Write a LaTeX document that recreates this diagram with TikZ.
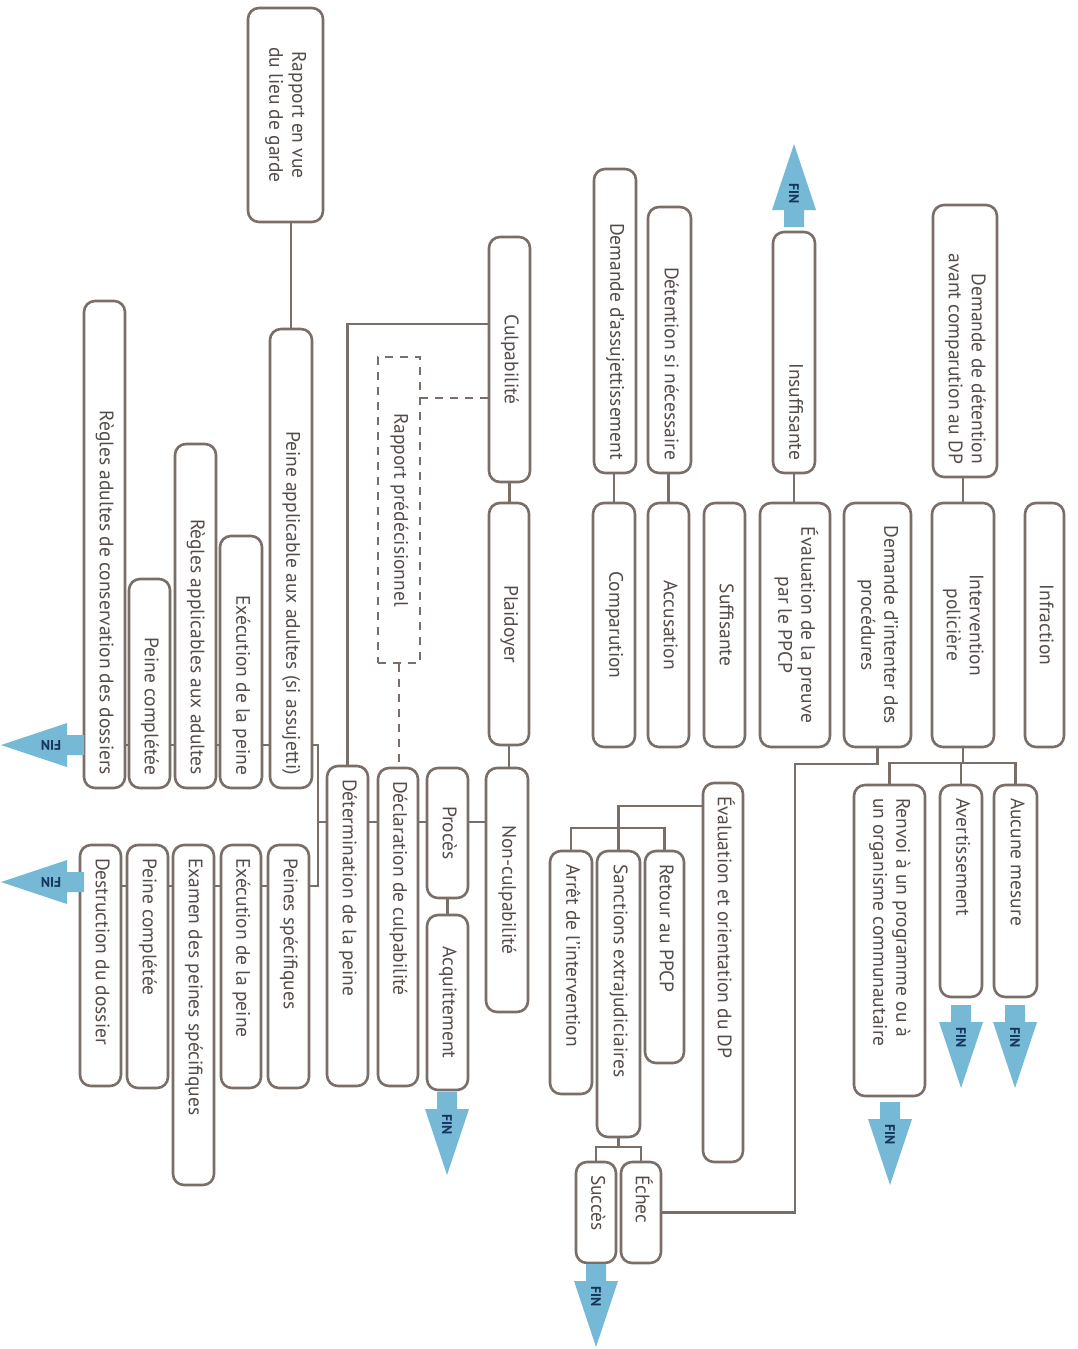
\documentclass[tikz,border=0pt]{standalone}
\usepackage{fontspec}
\setmainfont{PT Sans}
\usepackage{tikz}

\definecolor{boxline}{RGB}{122,110,104}
\definecolor{boxtext}{RGB}{84,76,73}
\definecolor{finfill}{RGB}{118,185,214}
\definecolor{fintext}{RGB}{22,52,92}

% rotated text in a box of fixed length: length, alignment (l=top, r=bottom, c)
\newcommand{\vtext}[4][c]{\rotatebox{-90}{\makebox[#2pt][#3]{\hspace*{13pt}\begin{tabular}{@{}#1@{}}#4\end{tabular}\hspace*{13pt}}}}
% FIN arrow: tip x, tip y, direction, text rotation, name
\newcommand{\finarrow}[5]{%
  \begin{scope}[shift={(#1,#2)}, rotate=#3]
    \fill[finfill] (-10,-83) -- (10,-83) -- (10,-66) -- (22,-66) -- (0,0) -- (-22,-66) -- (-10,-66) -- cycle;
    \node[fin, rotate=#4] (#5) at (0,-50) {FIN};
  \end{scope}}

\tikzset{
  box/.style={draw=boxline, line width=2.6pt, rounded corners=11pt, fill=white,
    inner sep=0pt, text=boxtext, font=\fontsize{19.5}{23}\selectfont},
  dbox/.style={box, rounded corners=0pt, line width=2.2pt, dash pattern=on 8pt off 7pt},
  link/.style={draw=boxline, line width=2.2pt},
  dlink/.style={link, dash pattern=on 8pt off 7pt},
  fin/.style={inner sep=0pt, text=fintext, font=\bfseries\fontsize{14}{14}\selectfont},
}

\begin{document}
\begin{tikzpicture}[x=1pt, y=-1pt]
\fill[white] (0,0) rectangle (1078,1349);
\useasboundingbox (0,0) rectangle (1078,1349);

% right part
\node[box, minimum width=42pt] (assuj) at (615,321) {\vtext{304}{r}{Demande d'assujettissement}};
\node[box, minimum width=43pt] (detsi) at (669.5,340) {\vtext{266}{r}{Détention si nécessaire}};
\node[box, minimum width=42pt] (insuf) at (794,352.5) {\vtext{241}{r}{Insuffisante}};
\node[box, minimum width=64pt] (demdet) at (965,341) {\vtext[r]{272}{r}{Demande de détention\\avant comparution au DP}};

\node[box, minimum width=42pt] (compar) at (614,625) {\vtext{244}{c}{Comparution}};
\node[box, minimum width=41pt] (accus) at (668.5,625) {\vtext{244}{c}{Accusation}};
\node[box, minimum width=41pt] (suff) at (724.5,625) {\vtext{244}{c}{Suffisante}};
\node[box, minimum width=70pt] (evalp) at (795,625) {\vtext{244}{c}{Évaluation de la preuve\\par le PPCP}};
\node[box, minimum width=67pt] (demint) at (877.5,625) {\vtext{244}{c}{Demande d'intenter des\\procédures}};
\node[box, minimum width=62pt] (interv) at (963,625) {\vtext{244}{c}{Intervention\\policière}};
\node[box, minimum width=39pt] (infr) at (1044.5,625) {\vtext{244}{c}{Infraction}};

\draw[link] (compar.north) -- (compar.north |- assuj.south);
\draw[link] (accus.north) -- (accus.north |- detsi.south);
\draw[link] (evalp.north -| insuf.south) -- (insuf.south);
\draw[link] (interv.north) -- (interv.north |- demdet.south);
\finarrow{794}{144}{180}{-90}{fin1}

\node[box, minimum width=43pt] (aucune) at (1015.5,891) {\vtext{212}{l}{Aucune mesure}};
\node[box, minimum width=42pt] (avert) at (961,891) {\vtext{212}{l}{Avertissement}};
\node[box, minimum width=71pt] (renvoi) at (889.5,940.5) {\vtext[l]{311}{l}{Renvoi à un programme ou à\\un organisme communautaire}};
\coordinate (forkint) at (963,763);
\draw[link] (interv.south) -- (forkint);
\draw[link] (renvoi.north) |- (forkint) -| (aucune.north);
\draw[link] (forkint -| avert.north) -- (avert.north);
\finarrow{961}{1088}{0}{-90}{fin2}
\finarrow{1015}{1088}{0}{-90}{fin3}
\finarrow{890}{1185}{0}{-90}{fin4}

\node[box, minimum width=40pt] (evalo) at (723,972.5) {\vtext{379}{l}{Évaluation et orientation du DP}};
\node[box, minimum width=39pt] (retour) at (664.5,957) {\vtext{212}{l}{Retour au PPCP}};
\node[box, minimum width=43pt] (sanct) at (618.5,994) {\vtext{286}{l}{Sanctions extrajudiciaires}};
\node[box, minimum width=42pt] (arret) at (571,972.5) {\vtext{243}{l}{Arrêt de l'intervention}};
\node[box, minimum width=40pt] (echec) at (641,1212.5) {\vtext{101}{l}{Échec}};
\node[box, minimum width=40pt] (succes) at (596,1212.5) {\vtext{101}{l}{Succès}};
\coordinate (forkeval) at (618.5,806);
\coordinate (forksanct) at (618.5,828);
\coordinate (forkres) at (618.5,1147);
\coordinate (backint) at (795,764);
\draw[link] (evalo.west |- forkeval) -| (sanct.north);
\draw[link] (arret.north) |- (forksanct) -| (retour.north);
\draw[link] (sanct.south) -- (forkres);
\draw[link] (succes.north) |- (forkres) -| (echec.north);
\draw[link] (echec.east) -| (backint) -| (demint.south);
\finarrow{596}{1347}{0}{-90}{fin5}

% middle part
\node[box, minimum width=41pt] (culp) at (509.5,359.5) {\vtext{245}{c}{Culpabilité}};
\node[box, minimum width=40pt] (plaid) at (509,624) {\vtext{242}{c}{Plaidoyer}};
\node[box, minimum width=42pt] (noncul) at (507,890) {\vtext{244}{c}{Non-culpabilité}};
\node[box, minimum width=41pt] (proces) at (447.5,833) {\vtext{130}{c}{Procès}};
\node[box, minimum width=41pt] (acquit) at (447.5,1002.5) {\vtext{175}{c}{Acquittement}};
\node[box, minimum width=40pt] (declar) at (398,927) {\vtext{318}{l}{Déclaration de culpabilité}};
\node[box, minimum width=41pt] (determ) at (347.5,926) {\vtext{320}{l}{Détermination de la peine}};
\node[dbox, minimum width=42pt] (rappred) at (399,510) {\vtext{306}{c}{Rapport prédécisionnel}};
\draw[link] (culp.south) -- (culp.south |- plaid.north);
\draw[link] (plaid.south) -- (plaid.south |- noncul.north);
\draw[link] (proces.south) -- (acquit.north);
\finarrow{447}{1175}{0}{-90}{fin6}

\coordinate (rowmid) at (318,822);
\foreach \a/\b in {noncul/proces, proces/declar, declar/determ}
  \draw[link] (\a.west |- rowmid) -- (\b.east |- rowmid);
\coordinate (forkculp) at (347.5,324);
\draw[link] (culp.west |- forkculp) -- (forkculp) -- (determ.north);
\coordinate (forkrap) at (420,398);
\draw[dlink] (culp.west |- forkrap) -- (rappred.east |- forkrap);
\draw[dlink] (rappred.south) -- (rappred.south |- declar.north);

% left part
\node[box, minimum width=75pt] (rapport) at (285.5,115) {\vtext{214}{c}{Rapport en vue\\du lieu de garde}};
\node[box, minimum width=42pt] (peineadu) at (291,558.5) {\vtext{459}{r}{Peine applicable aux adultes (si assujetti)}};
\node[box, minimum width=41pt] (regcons) at (104.5,544.5) {\vtext{487}{r}{Règles adultes de conservation des dossiers}};
\node[box, minimum width=41pt] (pcompa) at (149.5,683.5) {\vtext{209}{r}{Peine complétée}};
\node[box, minimum width=41pt] (regapp) at (195.5,616) {\vtext{344}{r}{Règles applicables aux adultes}};
\node[box, minimum width=42pt] (execa) at (241,662) {\vtext{252}{r}{Exécution de la peine}};
\draw[link] (peineadu.north) -- (peineadu.north |- rapport.south);

\node[box, minimum width=41pt] (peinesp) at (288.5,966.5) {\vtext{243}{l}{Peines spécifiques}};
\node[box, minimum width=40pt] (execb) at (241,966.5) {\vtext{243}{l}{Exécution de la peine}};
\node[box, minimum width=41pt] (examen) at (193.5,1015) {\vtext{340}{l}{Examen des peines spécifiques}};
\node[box, minimum width=41pt] (pcompb) at (147.5,966.5) {\vtext{243}{l}{Peine complétée}};
\node[box, minimum width=41pt] (destr) at (100.5,965.5) {\vtext{241}{l}{Destruction du dossier}};

\coordinate (rowa) at (318,745);
\coordinate (rowb) at (318,886);
\foreach \a/\b in {regcons/pcompa, pcompa/regapp, regapp/execa, execa/peineadu}
  \draw[link] (\a.east |- rowa) -- (\b.west |- rowa);
\foreach \a/\b in {destr/pcompb, pcompb/examen, examen/execb, execb/peinesp}
  \draw[link] (\a.east |- rowb) -- (\b.west |- rowb);
\draw[link] (peineadu.east |- rowa) -- (rowa) -- (rowb) -- (peinesp.east |- rowb);
\draw[link] (determ.west |- rowmid) -- (rowmid);
\finarrow{1}{745}{-90}{180}{fin7}
\finarrow{1}{882}{-90}{180}{fin8}
\end{tikzpicture}
\end{document}
